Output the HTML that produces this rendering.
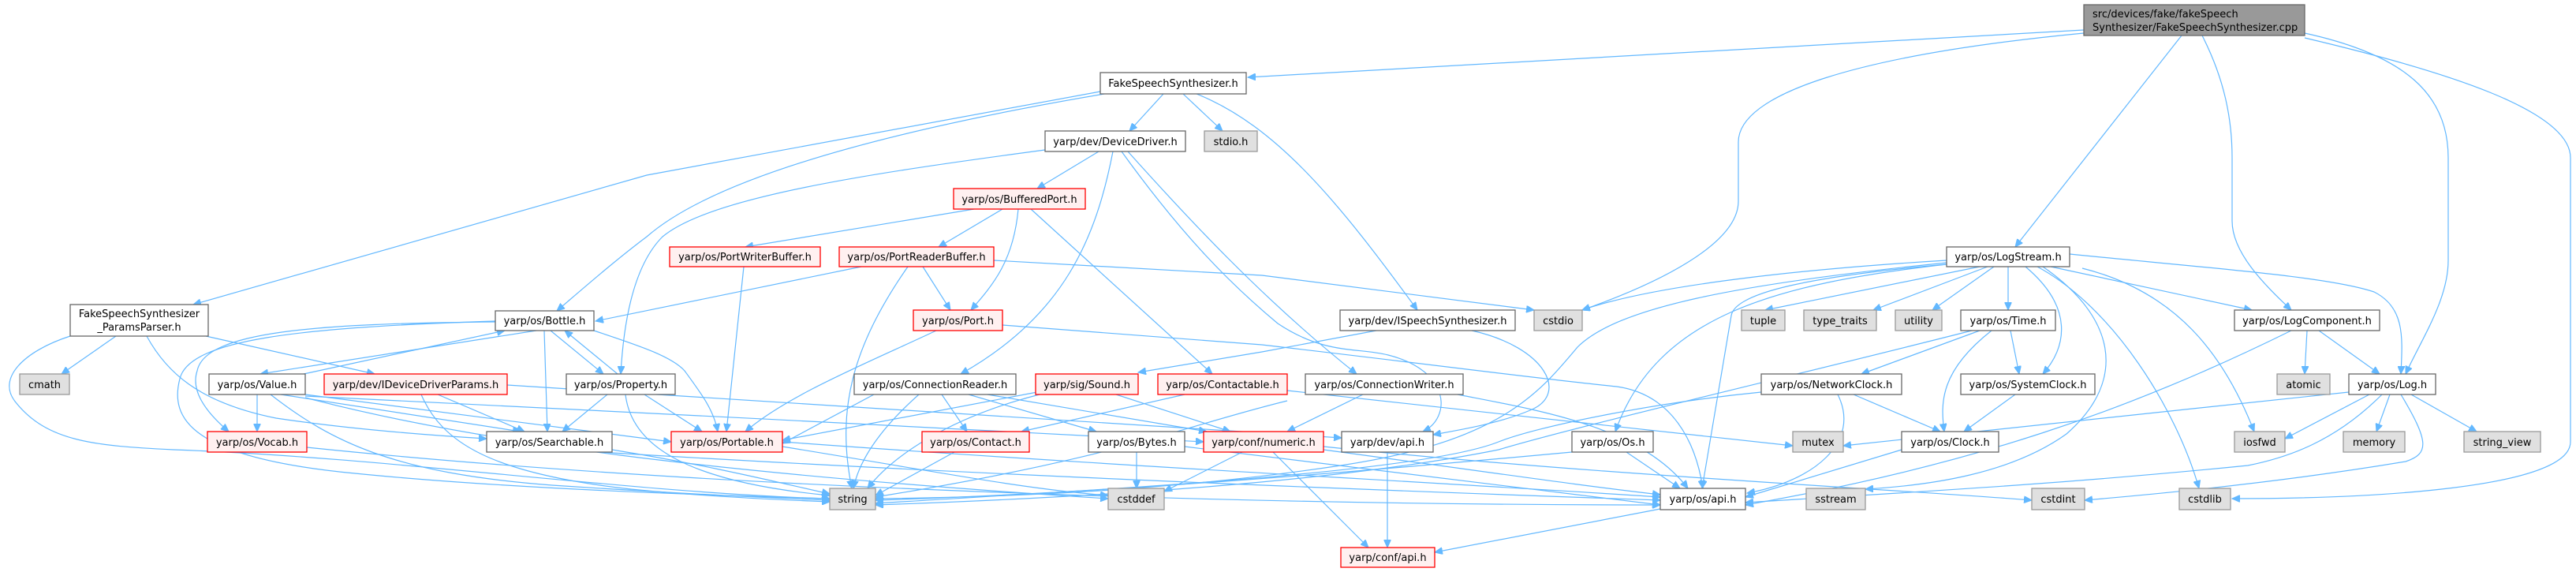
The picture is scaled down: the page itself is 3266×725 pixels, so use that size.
<!DOCTYPE html>
<html><head><meta charset="utf-8"><style>
html,body{margin:0;padding:0;background:#fff;}
svg{display:block;}
text{font-family:"DejaVu Sans","Liberation Sans",sans-serif;font-size:13px;fill:#000;}
.e{fill:none;stroke:#63b8ff;stroke-width:1.2;}
.w{fill:#fff;stroke:#666;stroke-width:1.3;}
.r{fill:#fff0f0;stroke:#f00;stroke-width:1.3;}
.g{fill:#e0e0e0;stroke:#999;stroke-width:1.3;}
</style></head><body>
<svg width="3266" height="725" viewBox="0 0 3266 725" xmlns="http://www.w3.org/2000/svg">
<defs><marker id="a" markerWidth="11" markerHeight="9" refX="10" refY="4.5" orient="auto" markerUnits="userSpaceOnUse"><path d="M0,0 L10,4.5 L0,9 z" fill="#63b8ff" stroke="#63b8ff"/></marker></defs>
<g class="e" marker-end="url(#a)">
<!-- from cpp -->
<path d="M2642,38 L1582,98"/>
<path d="M2642,42 C2350,70 2204,120 2204,180 L2204,255 C2204,310 2100,360 2006,393"/>
<path d="M2766,45 L2555,313"/>
<path d="M2792,45 C2820,100 2830,150 2830,200 L2830,280 C2830,320 2870,360 2905,393"/>
<path d="M2922,42 C3050,70 3104,120 3104,200 L3104,330 C3104,380 3070,430 3050,474"/>
<path d="M2922,48 C3100,90 3259,140 3259,200 L3259,560 C3259,620 3000,632 2830,632"/>
<!-- FakeSpeechSynthesizer.h -->
<path d="M1395,116 L820,222 L245,386"/>
<path d="M1400,119 C1100,170 900,230 820,300 C780,330 740,365 706,394"/>
<path d="M1475,119 L1432,166"/>
<path d="M1500,119 L1550,166"/>
<path d="M1517,119 C1620,160 1700,260 1797,393"/>
<!-- DeviceDriver.h -->
<path d="M1325,190 C1100,220 900,250 840,300 C800,340 790,420 787,474"/>
<path d="M1393,192 L1315,239"/>
<path d="M1411,192 C1390,300 1350,400 1218,474"/>
<path d="M1422,192 C1500,300 1560,360 1620,410 C1680,450 1720,440 1760,450 C1840,470 1840,530 1804,547"/>
<path d="M1430,192 C1500,270 1600,379 1720,474"/>
<!-- BufferedPort.h -->
<path d="M1235,265 L945,313"/>
<path d="M1271,265 L1190,313"/>
<path d="M1291,265 C1285,330 1260,360 1231,393"/>
<path d="M1307,265 L1537,474"/>
<!-- PortWriterBuffer / PortReaderBuffer -->
<path d="M943,338 L921,547"/>
<path d="M1092,338 L755,407"/>
<path d="M1151,338 C1080,440 1060,520 1080,619"/>
<path d="M1170,338 L1205,393"/>
<path d="M1260,330 L1600,349 L1945,393"/>
<!-- Port.h -->
<path d="M1187,419 C1100,460 1000,500 945,547"/>
<path d="M1271,412 L1600,437 C1800,460 1950,480 2050,490 C2120,500 2150,560 2159,619"/>
<!-- ISpeechSynthesizer -->
<path d="M1745,419 L1600,446 L1443,472"/>
<path d="M1866,419 C1960,440 1990,500 1940,520 C1900,537 1850,545 1817,551"/>
<!-- ParamsParser -->
<path d="M147,426 L78,474"/>
<path d="M261,426 L475,474"/>
<path d="M186,426 C210,470 250,510 350,530 C450,545 550,552 617,556"/>
<path d="M89,426 C30,445 -5,480 20,510 C60,560 120,565 220,570 C500,580 800,625 1052,632"/>
<!-- Bottle.h -->
<path d="M680,419 L330,474"/>
<path d="M385,474 L640,419"/>
<path d="M628,408 C400,410 260,420 250,470 C240,500 270,530 290,547"/>
<path d="M628,407 C380,415 240,430 228,480 C215,530 240,580 450,600 C650,620 900,628 1052,632"/>
<path d="M690,419 L694,547"/>
<path d="M698,419 L765,474"/>
<path d="M783,474 L716,419"/>
<path d="M750,418 C800,435 850,450 868,470 C890,500 905,520 910,547"/>
<!-- Value.h -->
<path d="M326,500 L326,547"/>
<path d="M356,500 L660,547"/>
<path d="M387,500 L851,560"/>
<path d="M343,500 C420,560 500,600 700,615 C850,625 950,630 1052,634"/>
<path d="M387,504 C600,560 900,600 1405,632"/>
<path d="M387,502 C700,520 1200,540 1526,560"/>
<!-- IDeviceDriverParams -->
<path d="M555,500 L665,547"/>
<path d="M534,500 C560,560 620,600 800,620 C900,630 1000,634 1052,636"/>
<path d="M643,488 L1701,555"/>
<!-- Property.h -->
<path d="M770,500 L713,547"/>
<path d="M817,500 L890,547"/>
<path d="M793,500 C800,560 860,610 1052,628"/>
<!-- Vocab / Searchable / Portable -->
<path d="M389,567 C900,620 1600,640 2105,640"/>
<path d="M760,573 C1200,600 1700,620 2105,634"/>
<path d="M776,570 C900,590 980,610 1052,626"/>
<path d="M992,560 C1400,590 1800,610 2105,630"/>
<path d="M992,566 C1200,600 1300,620 1405,628"/>
<!-- ConnectionReader -->
<path d="M1165,500 C1120,540 1090,580 1082,619"/>
<path d="M1194,500 L1226,547"/>
<path d="M1228,500 L1390,547"/>
<path d="M1252,500 L1530,547"/>
<path d="M1108,500 L992,562"/>
<!-- Sound / Contactable -->
<path d="M1315,497 L992,558"/>
<path d="M1318,500 C1200,530 1130,580 1100,619"/>
<path d="M1415,500 L1560,547"/>
<path d="M1502,500 L1295,547"/>
<path d="M1632,495 L2273,565"/>
<path d="M1632,508 C1500,540 1420,580 1110,630"/>
<!-- Contact / Bytes / numeric -->
<path d="M1210,573 L1110,628"/>
<path d="M1441,573 L1441,619"/>
<path d="M1502,566 L2105,640"/>
<path d="M1575,573 L1476,623"/>
<path d="M1614,573 L1735,694"/>
<path d="M1678,566 C2000,600 2400,620 2576,634"/>
<path d="M1678,570 C1900,600 2000,615 2105,627"/>
<!-- ConnectionWriter / dev api / Os / os api -->
<path d="M1728,500 L1632,547"/>
<path d="M1848,500 C1950,520 2080,540 2140,619"/>
<path d="M1759,573 L1759,694"/>
<path d="M2062,573 L2130,619"/>
<path d="M1993,573 C1700,600 1400,625 1110,634"/>
<path d="M2105,645 L1819,700"/>
<!-- Clocks / Time -->
<path d="M2350,500 L2460,547"/>
<path d="M2330,500 C2360,560 2300,610 2215,625"/>
<path d="M2233,497 C2100,510 1950,540 1900,560 C1800,600 1400,620 1110,638"/>
<path d="M2411,570 L2213,630"/>
<path d="M2555,500 L2490,547"/>
<path d="M2549,419 L2560,474"/>
<path d="M2525,419 C2460,470 2460,510 2465,547"/>
<path d="M2510,419 L2360,474"/>
<path d="M2500,419 C2300,470 2000,540 1900,570 C1700,610 1400,630 1110,640"/>
<!-- LogStream.h -->
<path d="M2510,338 L2238,393"/>
<path d="M2520,338 L2375,393"/>
<path d="M2528,338 L2450,393"/>
<path d="M2546,338 L2546,393"/>
<path d="M2568,338 C2630,390 2620,440 2590,474"/>
<path d="M2600,338 L2855,393"/>
<path d="M2624,322 C2800,340 2950,350 3010,370 C3050,390 3046,430 3044,474"/>
<path d="M2640,340 C2760,370 2820,450 2858,547"/>
<path d="M2583,338 C2680,390 2760,520 2788,619"/>
<path d="M2468,330 C2300,340 2100,360 2006,393"/>
<path d="M2468,335 C2300,350 2200,370 2195,400 L2158,619"/>
<path d="M2468,335 C2250,360 2100,400 2048,547"/>
<path d="M2468,333 C2200,360 2050,390 2000,440 C1950,500 1900,560 1700,590 C1500,620 1300,630 1110,632"/>
<path d="M2590,338 C2680,400 2700,480 2620,550 C2550,600 2450,615 2365,620"/>
<!-- LogComponent / Log -->
<path d="M2925,419 L2922,474"/>
<path d="M2940,419 L3017,474"/>
<path d="M2905,419 C2700,520 2500,590 2213,640"/>
<path d="M3004,500 L2897,556"/>
<path d="M3030,500 L3013,547"/>
<path d="M3057,500 L3140,547"/>
<path d="M3044,500 C3080,560 3080,575 3050,585 C2900,610 2750,625 2643,634"/>
<path d="M2978,497 L2337,565"/>
<path d="M3020,500 C2960,560 2900,580 2850,590 C2600,615 2400,625 2213,637"/>
</g>
<!-- nodes -->
<rect class="w" x="2642" y="6" width="280" height="39" style="fill:#999"/>
<text x="2653" y="22">src/devices/fake/fakeSpeech</text>
<text x="2653" y="39">Synthesizer/FakeSpeechSynthesizer.cpp</text>
<rect class="w" x="89" y="386" width="175" height="40"/>
<text x="176.5" y="402" text-anchor="middle">FakeSpeechSynthesizer</text>
<text x="176.5" y="419" text-anchor="middle">_ParamsParser.h</text>
<g text-anchor="middle">
<rect class="w" x="1395" y="92" width="185" height="27"/><text x="1487.5" y="110">FakeSpeechSynthesizer.h</text>
<rect class="w" x="1325" y="166" width="178" height="26"/><text x="1414" y="184">yarp/dev/DeviceDriver.h</text>
<rect class="g" x="1527" y="166" width="67" height="26"/><text x="1560.5" y="184">stdio.h</text>
<rect class="r" x="1209" y="239" width="167" height="26"/><text x="1292.5" y="257">yarp/os/BufferedPort.h</text>
<rect class="r" x="849" y="313" width="191" height="25"/><text x="944.5" y="330">yarp/os/PortWriterBuffer.h</text>
<rect class="r" x="1064" y="313" width="196" height="25"/><text x="1162" y="330">yarp/os/PortReaderBuffer.h</text>
<rect class="w" x="2468" y="313" width="156" height="25"/><text x="2546" y="330">yarp/os/LogStream.h</text>
<rect class="w" x="628" y="394" width="125" height="25"/><text x="690.5" y="411">yarp/os/Bottle.h</text>
<rect class="r" x="1158" y="393" width="113" height="26"/><text x="1214.5" y="411">yarp/os/Port.h</text>
<rect class="w" x="1699" y="393" width="222" height="26"/><text x="1810" y="411">yarp/dev/ISpeechSynthesizer.h</text>
<rect class="g" x="1945" y="393" width="61" height="26"/><text x="1975.5" y="411">cstdio</text>
<rect class="g" x="2208" y="393" width="55" height="26"/><text x="2235.5" y="411">tuple</text>
<rect class="g" x="2287" y="393" width="92" height="26"/><text x="2333" y="411">type_traits</text>
<rect class="g" x="2403" y="393" width="59" height="26"/><text x="2432.5" y="411">utility</text>
<rect class="w" x="2486" y="393" width="120" height="26"/><text x="2546" y="411">yarp/os/Time.h</text>
<rect class="w" x="2833" y="393" width="184" height="26"/><text x="2925" y="411">yarp/os/LogComponent.h</text>
<rect class="g" x="25" y="474" width="63" height="26"/><text x="56.5" y="492">cmath</text>
<rect class="w" x="265" y="474" width="122" height="26"/><text x="326" y="492">yarp/os/Value.h</text>
<rect class="r" x="411" y="474" width="232" height="26"/><text x="527" y="492">yarp/dev/IDeviceDriverParams.h</text>
<rect class="w" x="718" y="474" width="138" height="26"/><text x="787" y="492">yarp/os/Property.h</text>
<rect class="w" x="1083" y="474" width="205" height="26"/><text x="1185.5" y="492">yarp/os/ConnectionReader.h</text>
<rect class="r" x="1313" y="474" width="130" height="26"/><text x="1378" y="492">yarp/sig/Sound.h</text>
<rect class="r" x="1468" y="474" width="164" height="26"/><text x="1550" y="492">yarp/os/Contactable.h</text>
<rect class="w" x="1655" y="474" width="200" height="26"/><text x="1755" y="492">yarp/os/ConnectionWriter.h</text>
<rect class="w" x="2233" y="474" width="178" height="26"/><text x="2322" y="492">yarp/os/NetworkClock.h</text>
<rect class="w" x="2486" y="474" width="170" height="26"/><text x="2571" y="492">yarp/os/SystemClock.h</text>
<rect class="g" x="2887" y="474" width="67" height="26"/><text x="2920.5" y="492">atomic</text>
<rect class="w" x="2978" y="474" width="110" height="26"/><text x="3033" y="492">yarp/os/Log.h</text>
<rect class="r" x="263" y="547" width="126" height="26"/><text x="326" y="565">yarp/os/Vocab.h</text>
<rect class="w" x="617" y="547" width="159" height="26"/><text x="696.5" y="565">yarp/os/Searchable.h</text>
<rect class="r" x="851" y="547" width="141" height="26"/><text x="921.5" y="565">yarp/os/Portable.h</text>
<rect class="r" x="1169" y="547" width="136" height="26"/><text x="1237" y="565">yarp/os/Contact.h</text>
<rect class="w" x="1380" y="547" width="122" height="26"/><text x="1441" y="565">yarp/os/Bytes.h</text>
<rect class="r" x="1526" y="547" width="152" height="26"/><text x="1602" y="565">yarp/conf/numeric.h</text>
<rect class="w" x="1701" y="547" width="116" height="26"/><text x="1759" y="565">yarp/dev/api.h</text>
<rect class="w" x="1993" y="547" width="103" height="26"/><text x="2044.5" y="565">yarp/os/Os.h</text>
<rect class="g" x="2273" y="547" width="64" height="26"/><text x="2305" y="565">mutex</text>
<rect class="w" x="2411" y="547" width="123" height="26"/><text x="2472.5" y="565">yarp/os/Clock.h</text>
<rect class="g" x="2833" y="547" width="64" height="26"/><text x="2865" y="565">iosfwd</text>
<rect class="g" x="2971" y="547" width="78" height="26"/><text x="3010" y="565">memory</text>
<rect class="g" x="3124" y="547" width="97" height="26"/><text x="3172.5" y="565">string_view</text>
<rect class="g" x="1052" y="619" width="58" height="27"/><text x="1081" y="637">string</text>
<rect class="g" x="1405" y="619" width="71" height="27"/><text x="1440.5" y="637">cstddef</text>
<rect class="w" x="2105" y="619" width="108" height="27"/><text x="2159" y="637">yarp/os/api.h</text>
<rect class="g" x="2290" y="619" width="75" height="27"/><text x="2327.5" y="637">sstream</text>
<rect class="g" x="2576" y="619" width="67" height="27"/><text x="2609.5" y="637">cstdint</text>
<rect class="g" x="2763" y="619" width="65" height="27"/><text x="2795.5" y="637">cstdlib</text>
<rect class="r" x="1700" y="694" width="119" height="25"/><text x="1759.5" y="711">yarp/conf/api.h</text>
</g>
</svg>
</body></html>
